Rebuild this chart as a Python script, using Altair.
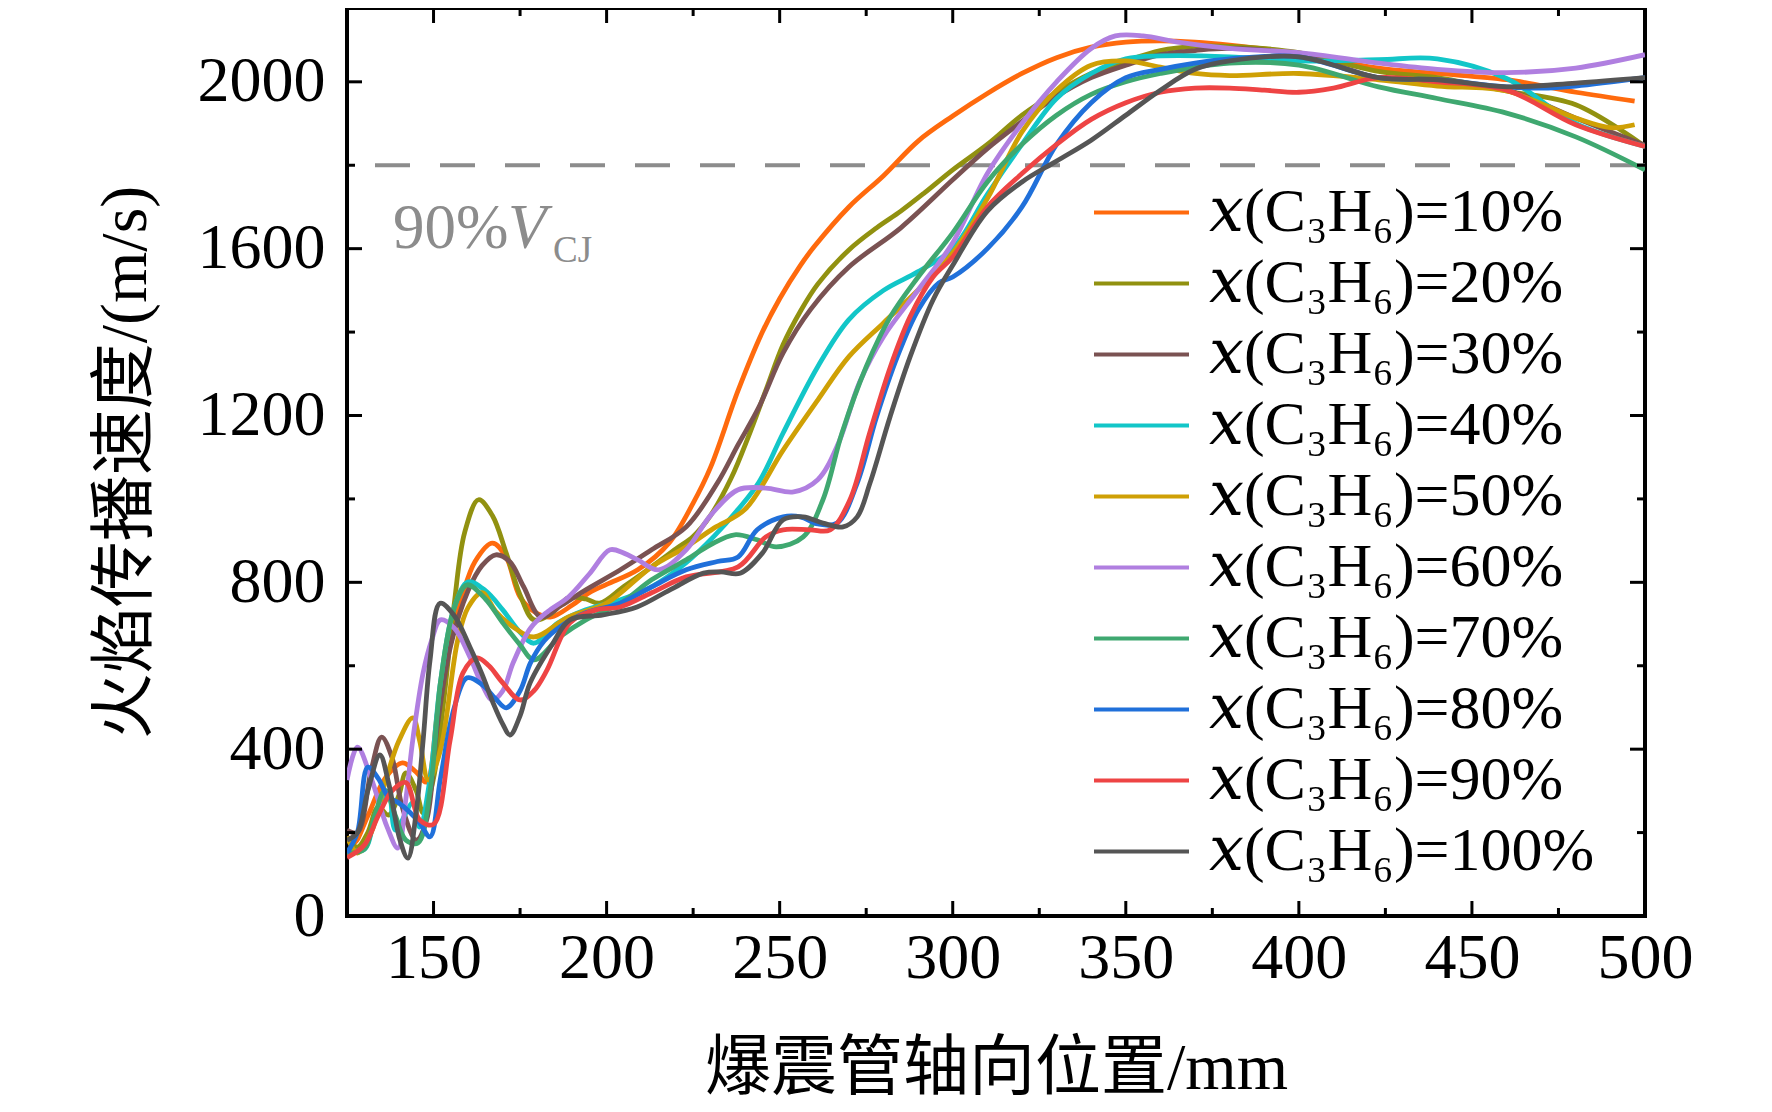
import altair as alt
import pandas as pd

# ---------------- data ----------------
PCTS = [10, 20, 30, 40, 50, 60, 70, 80, 90, 100]
COLORS = ["#FF6A0D", "#919110", "#7A5252", "#12C6C8", "#CFA005",
          "#B07FE0", "#3FA870", "#2070DA", "#EE4444", "#555555"]

x10 = [125, 127, 131, 136, 141, 145, 148, 151, 154, 158, 162, 167, 171, 175, 180, 184, 190, 195, 200, 209, 218, 225, 230,
       238, 245, 250, 256, 260, 270, 280, 290, 300, 310, 320, 330, 340, 350, 360, 370, 380, 400, 423, 440, 460, 480, 497]
v10 = [190, 175, 240, 330, 367, 345, 321, 480, 640, 760, 850, 894, 860, 765, 725, 717, 745, 775, 795, 830, 894, 990, 1075,
       1260, 1400, 1480, 1560, 1605, 1700, 1775, 1858, 1918, 1972, 2020, 2058, 2083, 2095, 2098, 2095, 2088, 2068, 2033,
       2020, 2005, 1975, 1954]

x20 = [125, 128, 131, 134, 137, 140, 142, 145, 147, 150, 153, 156, 159, 163, 167, 171, 175, 179, 184, 189, 194, 198, 205,
       213, 220, 225, 230, 236, 241, 246, 251, 256, 261, 270, 278, 285, 292, 300, 310, 320, 330, 340, 350, 360, 370, 380,
       400, 423, 440, 460, 480, 500]
v20 = [190, 165, 200, 261, 242, 290, 343, 300, 247, 330, 520, 750, 920, 998, 960, 870, 770, 710, 725, 763, 760, 750, 790,
       837, 880, 910, 960, 1050, 1150, 1260, 1370, 1450, 1515, 1597, 1650, 1690, 1735, 1789, 1850, 1920, 1975, 2020, 2050,
       2075, 2085, 2085, 2070, 2025, 2010, 1978, 1945, 1845]

x30 = [125, 128, 132, 135, 138, 141, 145, 148, 151, 155, 160, 164, 168, 172, 176, 181, 187, 194, 204, 213, 223, 232, 238,
       244, 251, 259, 270, 285, 300, 310, 320, 330, 340, 350, 360, 370, 380, 400, 423, 440, 460, 480, 500]
v30 = [206, 200, 350, 429, 380, 260, 182, 230, 450, 650, 780, 840, 866, 850, 790, 717, 745, 782, 830, 878, 933, 1038, 1130,
       1220, 1350, 1455, 1556, 1650, 1765, 1840, 1905, 1965, 2010, 2040, 2065, 2075, 2080, 2065, 2010, 2000, 1980, 1913,
       1848]

x40 = [125, 130, 133, 137, 139, 144, 146, 149, 152, 156, 160, 165, 170, 175, 179, 186, 194, 204, 213, 223, 231, 238, 244,
       251, 261, 270, 280, 290, 300, 310, 320, 330, 340, 350, 360, 380, 400, 423, 440, 460, 480, 500]
v40 = [158, 160, 230, 295, 206, 271, 213, 330, 560, 740, 801, 780, 734, 680, 654, 703, 734, 758, 789, 847, 910, 975, 1040,
       1158, 1317, 1430, 1500, 1545, 1600, 1730, 1850, 1960, 2020, 2055, 2062, 2060, 2050, 2053, 2055, 2008, 1900, 1845]

x50 = [125, 128, 132, 136, 140, 144, 146, 148.5, 152, 157, 160, 164, 168, 173, 179, 189, 200, 213, 223, 231, 240, 251, 261,
       270, 280, 290, 300, 310, 320, 330, 340, 350, 360, 370, 380, 400, 423, 440, 460, 480, 490, 497]
v50 = [190, 151, 200, 320, 420, 475, 420, 326, 398, 662, 740, 775, 730, 693, 669, 717, 750, 837, 885, 930, 975, 1117, 1237,
       1341, 1422, 1501, 1590, 1720, 1880, 1980, 2040, 2050, 2035, 2020, 2015, 2020, 2005, 1990, 1978, 1913, 1890, 1897]

x60 = [125, 128, 132, 136.6, 139.7, 142, 144, 147, 149.5, 152, 156, 160.5, 164, 167, 170, 173, 178, 183, 189, 195, 201, 205,
       209, 215, 223, 230, 238, 246, 254, 261, 267, 273, 280, 290, 300, 310, 320, 330, 340, 347, 355, 365, 380, 400, 423,
       440, 460, 480, 500]
v60 = [326, 405, 330, 213, 163, 280, 422, 583, 662, 710, 690, 621, 555, 518, 540, 607, 690, 730, 765, 820, 878, 870, 854,
       830, 878, 960, 1022, 1026, 1017, 1046, 1134, 1278, 1389, 1501, 1614, 1780, 1900, 2000, 2080, 2110, 2110, 2095, 2080,
       2070, 2045, 2030, 2022, 2033, 2065]

x70 = [125, 130, 133, 136, 139, 142, 145.5, 149, 152, 156, 159.7, 165, 170, 175, 179, 186.5, 194, 204, 213, 223, 230, 237,
       243.5, 249, 256.8, 262.5, 268, 275, 282, 290, 300, 310, 320, 330, 340, 350, 360, 380, 400, 423, 440, 460, 480, 500]
v70 = [151, 160, 240, 302, 240, 182, 175, 300, 560, 740, 794, 760, 703, 650, 614, 669, 710, 750, 806, 854, 890, 914, 902,
       885, 909, 998, 1158, 1317, 1437, 1532, 1638, 1760, 1850, 1920, 1970, 2000, 2020, 2045, 2040, 1988, 1960, 1925, 1868,
       1789]

x80 = [125, 128, 131, 134, 137, 140, 143, 146, 149, 152, 156, 159.7, 164, 168, 171, 175, 178, 182, 186.5, 194, 204, 213,
       223, 232, 238, 243.5, 251, 256, 261, 266.6, 272.4, 278, 284, 290, 296, 300, 310, 320, 330, 340, 350, 360, 370, 380,
       400, 423, 440, 460, 470, 480, 500]
v80 = [151, 200, 357, 330, 285, 271, 250, 223, 190, 330, 500, 571, 555, 520, 499, 540, 607, 660, 693, 727, 750, 789, 830,
       850, 861, 926, 957, 957, 940, 942, 1038, 1197, 1341, 1453, 1518, 1532, 1600, 1700, 1850, 1950, 2010, 2030, 2045,
       2055, 2060, 2010, 2005, 1988, 1985, 1990, 2010]

x90 = [125, 130, 134, 138, 142, 146, 150, 154.8, 158.5, 162.6, 166, 170, 175, 179, 182.8, 189.4, 197, 204, 213, 223, 238,
       246, 251, 258.8, 264.6, 270.3, 276, 282, 287.7, 294.3, 300, 310, 320, 330, 340, 350, 360, 370, 380, 390, 400, 410,
       423, 440, 460, 480, 500]
v90 = [140, 170, 240, 300, 320, 230, 220, 422, 583, 619, 600, 559, 518, 540, 590, 703, 734, 741, 775, 813, 837, 909, 926,
       926, 926, 998, 1158, 1317, 1437, 1532, 1580, 1700, 1780, 1850, 1910, 1950, 1975, 1985, 1985, 1980, 1975, 1985, 2010,
       2000, 1980, 1897, 1845]

x100 = [125, 128, 131, 134.5, 137, 140.3, 142.6, 145, 147, 149, 151.9, 156, 160.5, 164, 167.2, 170, 172.1, 175, 177.9,
        184.5, 189.4, 199, 208.8, 218.3, 228, 233, 238.6, 245, 251, 256.8, 262.5, 268.3, 272.4, 276.1, 281.9, 287.7, 294.3,
        300, 310, 320, 330, 340, 350, 360, 370, 380, 400, 423, 440, 460, 480, 500]
v100 = [182, 200, 300, 386, 320, 182, 139, 250, 422, 614, 750, 720, 645, 580, 511, 460, 434, 480, 559, 654, 710, 722, 741,
        782, 822, 825, 822, 870, 950, 957, 942, 933, 957, 1038, 1197, 1341, 1477, 1560, 1690, 1760, 1810, 1860, 1920, 1980,
        2030, 2050, 2060, 2010, 2005, 1988, 1997, 2010]

XS = [x10, x20, x30, x40, x50, x60, x70, x80, x90, x100]
VS = [v10, v20, v30, v40, v50, v60, v70, v80, v90, v100]

X_MAJOR = [150, 200, 250, 300, 350, 400, 450, 500]
X_MINOR = [175, 225, 275, 325, 375, 425, 475]
Y_MAJOR = [0, 400, 800, 1200, 1600, 2000]
Y_MINOR = [200, 600, 1000, 1400, 1800]
CJ_LEVEL = 1800  # 90% V_CJ

XTITLE = "爆震管轴向位置/mm"
YTITLE = "火焰传播速度/(m/s)"

LABELS = [f"𝑥(C₃H₆)={p}%" for p in PCTS]

rows = []
for lab, xs, vs in zip(LABELS, XS, VS):
    for a, b in zip(xs, vs):
        rows.append({"series": lab, "pos": a, "v": b})
df = pd.DataFrame(rows)

# ---------------- layout ----------------
W, H = 1298, 908
SERIF = "Liberation Serif"
CJK = "Liberation Serif, Noto Sans CJK SC"
LEG_FONT = "Liberation Serif, DejaVu Serif, DejaVu Sans, Noto Sans"
GRAY = "#8c8c8c"

xscale = alt.Scale(domain=[125, 500], nice=False, zero=False)
yscale = alt.Scale(domain=[0, 2177], nice=False, zero=False)


def X(**kw):
    return alt.X("pos:Q", scale=xscale, title=XTITLE, **kw)


def Y(**kw):
    return alt.Y("v:Q", scale=yscale, title=YTITLE, **kw)


lines = alt.Chart(df).mark_line(strokeWidth=4.8, interpolate="catmull-rom", clip=True).encode(
    x=X(axis=alt.Axis(values=X_MAJOR, ticks=False, domain=False, grid=False, format="d",
                      labelPadding=10, titlePadding=46, labelFlush=False)),
    y=Y(axis=alt.Axis(values=Y_MAJOR, ticks=False, domain=False, grid=False, format="d",
                      labelPadding=22, titlePadding=38)),
    color=alt.Color("series:N", sort=LABELS,
                    scale=alt.Scale(domain=LABELS, range=COLORS),
                    legend=alt.Legend(orient="none", legendX=745, legendY=169, title=None,
                                      symbolType="stroke", symbolStrokeWidth=4, symbolSize=9025,
                                      labelFont=LEG_FONT, labelFontSize=62, labelColor="black",
                                      labelLimit=0, clipHeight=70.8, rowPadding=0, labelOffset=18,
                                      padding=0)),
)

cj_line = alt.Chart(pd.DataFrame({"v": [CJ_LEVEL]})).mark_rule(
    color=GRAY, strokeWidth=4, strokeDash=[35, 30]).encode(y=Y())

ann = pd.DataFrame({"pos": [138.3], "v": [1602], "t": ["90%"]})
ann_v = pd.DataFrame({"pos": [171.5], "v": [1602], "t": ["V"]})
ann_cj = pd.DataFrame({"pos": [184.5], "v": [1568], "t": ["CJ"]})
t1 = alt.Chart(ann).mark_text(font=SERIF, fontSize=63, color=GRAY, align="left", baseline="alphabetic").encode(
    x=X(), y=Y(), text="t:N")
t2 = alt.Chart(ann_v).mark_text(font=SERIF, fontSize=63, fontStyle="italic", color=GRAY, align="left",
                                baseline="alphabetic").encode(x=X(), y=Y(), text="t:N")
t3 = alt.Chart(ann_cj).mark_text(font=SERIF, fontSize=37, color=GRAY, align="left", baseline="alphabetic").encode(
    x=X(), y=Y(), text="t:N")


def xticks(vals, length):
    d = pd.DataFrame({"pos": vals})
    b = alt.Chart(d).mark_rule(color="black", strokeWidth=3).encode(x=X(), y=alt.value(H), y2=alt.value(H - length))
    t = alt.Chart(d).mark_rule(color="black", strokeWidth=3).encode(x=X(), y=alt.value(0), y2=alt.value(length))
    return [b, t]


def yticks(vals, length):
    d = pd.DataFrame({"v": vals})
    l = alt.Chart(d).mark_rule(color="black", strokeWidth=3).encode(y=Y(), x=alt.value(0), x2=alt.value(length))
    r = alt.Chart(d).mark_rule(color="black", strokeWidth=3).encode(y=Y(), x=alt.value(W), x2=alt.value(W - length))
    return [l, r]


layers = [cj_line, lines, t1, t2, t3] + xticks(X_MAJOR, 15) + xticks(X_MINOR, 8) + yticks(Y_MAJOR, 15) + yticks(Y_MINOR, 8)

chart = alt.layer(*layers).properties(
    width=W, height=H,
    autosize=alt.AutoSizeParams(type="none"),
    padding={"left": 339, "top": 0, "right": 110, "bottom": 186},
).configure_view(stroke="black", strokeWidth=4).configure_axis(
    labelFont=SERIF, labelFontSize=64, labelColor="black",
    titleFont=CJK, titleFontSize=66, titleFontWeight="normal", titleColor="black",
)

chart.save("out.html", embed_options={"renderer": "svg", "actions": False})
